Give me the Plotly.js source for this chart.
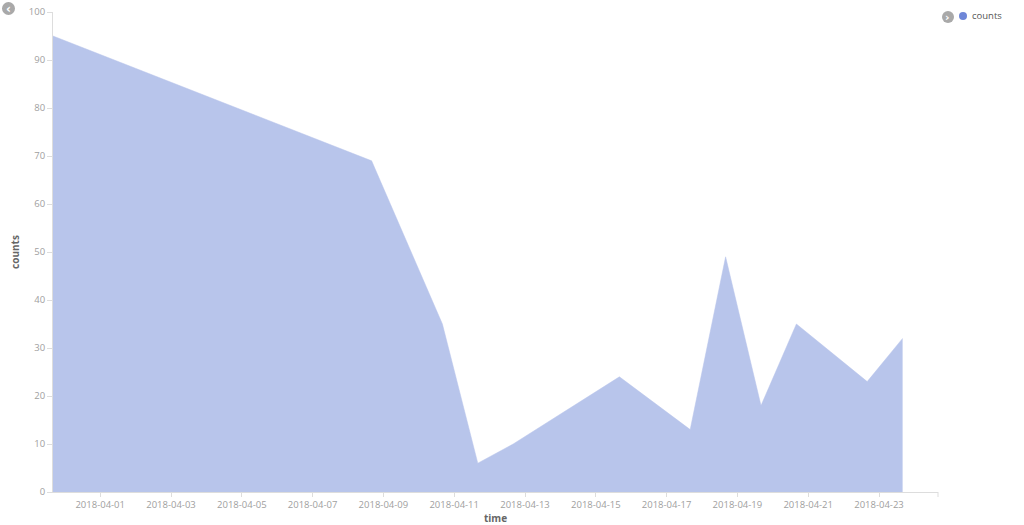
<!DOCTYPE html>
<html>
<head>
<meta charset="utf-8">
<script src="https://cdn.plot.ly/plotly-3.0.1.min.js"></script>
<style>
  html, body { margin: 0; padding: 0; background: #fff; }
  #chart { width: 1024px; height: 525px; }
</style>
</head>
<body>
<div id="chart"></div>
<script>
const times = [
  "2018-03-30 16:00", "2018-04-08 16:00", "2018-04-10 16:00", "2018-04-11 16:00",
  "2018-04-12 16:00", "2018-04-15 16:00", "2018-04-17 16:00", "2018-04-18 16:00",
  "2018-04-19 16:00", "2018-04-20 16:00", "2018-04-22 16:00", "2018-04-23 16:00"
];
const counts = [95, 69, 35, 6, 10, 24, 13, 49, 18, 35, 23, 32];
const seriesName = "counts";
const xTitle = "time";
const yTitle = "counts";

const fillColor = "rgb(184,197,235)";
const tickFont = { family: "Open Sans, sans-serif", size: 9.5, color: "#a0a0a0" };
const titleFont = { family: "Open Sans, sans-serif", size: 10, color: "#666", weight: "bold" };

const trace = {
  x: times,
  y: counts,
  type: "scatter",
  mode: "lines",
  name: seriesName,
  fill: "tozeroy",
  fillcolor: fillColor,
  line: { color: fillColor, width: 0.5 },
  showlegend: false,
  hoverinfo: "x+y"
};

const layout = {
  width: 1024,
  height: 525,
  margin: { l: 53, r: 86, t: 12, b: 33 },
  paper_bgcolor: "#fff",
  plot_bgcolor: "#fff",
  showlegend: false,
  xaxis: {
    type: "date",
    range: ["2018-03-30 16:00", "2018-04-24 16:00"],
    tick0: "2018-04-01",
    dtick: 2 * 86400000,
    tickformat: "%Y-%m-%d",
    showgrid: false,
    zeroline: false,
    showline: true,
    linecolor: "#ddd",
    linewidth: 1,
    ticks: "outside",
    ticklen: 4,
    tickcolor: "#ddd",
    tickfont: tickFont,
    title: { text: xTitle, font: titleFont, standoff: 2 }
  },
  yaxis: {
    range: [0, 100],
    dtick: 10,
    showgrid: false,
    zeroline: false,
    showline: true,
    linecolor: "#ddd",
    linewidth: 1,
    ticks: "outside",
    ticklen: 5,
    tickcolor: "#ddd",
    tickfont: tickFont,
    title: { text: yTitle, font: titleFont, standoff: 7 }
  },
  shapes: [
    { type: "circle", xref: "paper", yref: "paper",
      x0: (942 - 53) / 885, x1: (954 - 53) / 885,
      y0: (492 - 23) / 480, y1: (492 - 11) / 480,
      fillcolor: "#a9a9a9", line: { width: 0 } },
    { type: "circle", xref: "paper", yref: "paper",
      x0: (959 - 53) / 885, x1: (967 - 53) / 885,
      y0: (492 - 20) / 480, y1: (492 - 12) / 480,
      fillcolor: "#6f87d8", line: { width: 0 } },
    { type: "circle", xref: "paper", yref: "paper",
      x0: (2 - 53) / 885, x1: (15 - 53) / 885,
      y0: (492 - 15) / 480, y1: (492 - 2) / 480,
      fillcolor: "#a9a9a9", line: { width: 0 } },
    { type: "line", xref: "paper", yref: "paper",
      x0: 1, x1: 1, y0: 0, y1: -5 / 480,
      line: { color: "#ddd", width: 1 } }
  ],
  annotations: [
    { xref: "paper", yref: "paper", x: (970 - 53) / 885, y: (492 - 16) / 480,
      xanchor: "left", yanchor: "middle", showarrow: false, text: seriesName,
      font: { family: "Open Sans, sans-serif", size: 9.5, color: "#555" } },
    { xref: "paper", yref: "paper", x: (948 - 53) / 885, y: (492 - 17.5) / 480,
      xanchor: "center", yanchor: "middle", showarrow: false, text: "›",
      font: { family: "DejaVu Sans, sans-serif", size: 11, color: "#fff", weight: "bold" } },
    { xref: "paper", yref: "paper", x: (8.5 - 53) / 885, y: (492 - 9) / 480,
      xanchor: "center", yanchor: "middle", showarrow: false, text: "‹",
      font: { family: "DejaVu Sans, sans-serif", size: 12, color: "#fff", weight: "bold" } }
  ]
};

Plotly.newPlot("chart", [trace], layout, { displayModeBar: false, staticPlot: true });
</script>
</body>
</html>
